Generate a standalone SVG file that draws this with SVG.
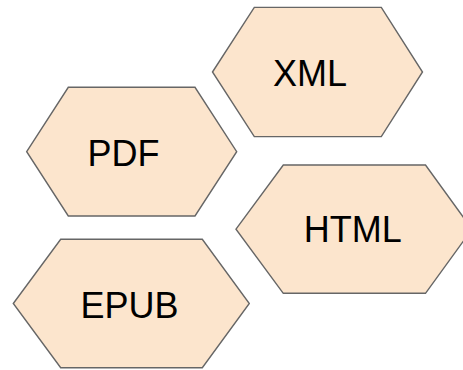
<svg xmlns="http://www.w3.org/2000/svg" width="463" height="370" viewBox="0 0 463 370">
<style>
.hex{fill:#fce5cd;stroke:#666666;stroke-width:1.4;stroke-linejoin:miter}
.lbl{font-family:"Liberation Sans",Arial,sans-serif;font-size:36px;fill:#000000;text-anchor:middle}
</style>
<rect width="463" height="370" fill="#ffffff"/>
<g id="connectors"></g>
<g id="node-xml">
<polygon class="hex" points="212.5,72 254.3,7.4 381.3,7.4 422.5,72 381.3,136.6 254.3,136.6"/>
<text class="lbl" x="310" y="86">XML</text>
</g>
<g id="node-pdf">
<polygon class="hex" points="26.7,151.7 68.3,87.3 195,87.3 236.7,151.7 195,216 68.3,216"/>
<text class="lbl" x="123.5" y="166">PDF</text>
</g>
<g id="node-html">
<polygon class="hex" points="236,229.2 283.3,165 425.5,165 472,229.2 425.5,293.3 283.3,293.3"/>
<text class="lbl" x="352.8" y="242.3">HTML</text>
</g>
<g id="node-epub">
<polygon class="hex" points="13.3,303.5 60.7,239.3 202.3,239.3 249.3,303.5 202.3,367.7 60.7,367.7"/>
<text class="lbl" x="129.5" y="318.3">EPUB</text>
</g>
</svg>
